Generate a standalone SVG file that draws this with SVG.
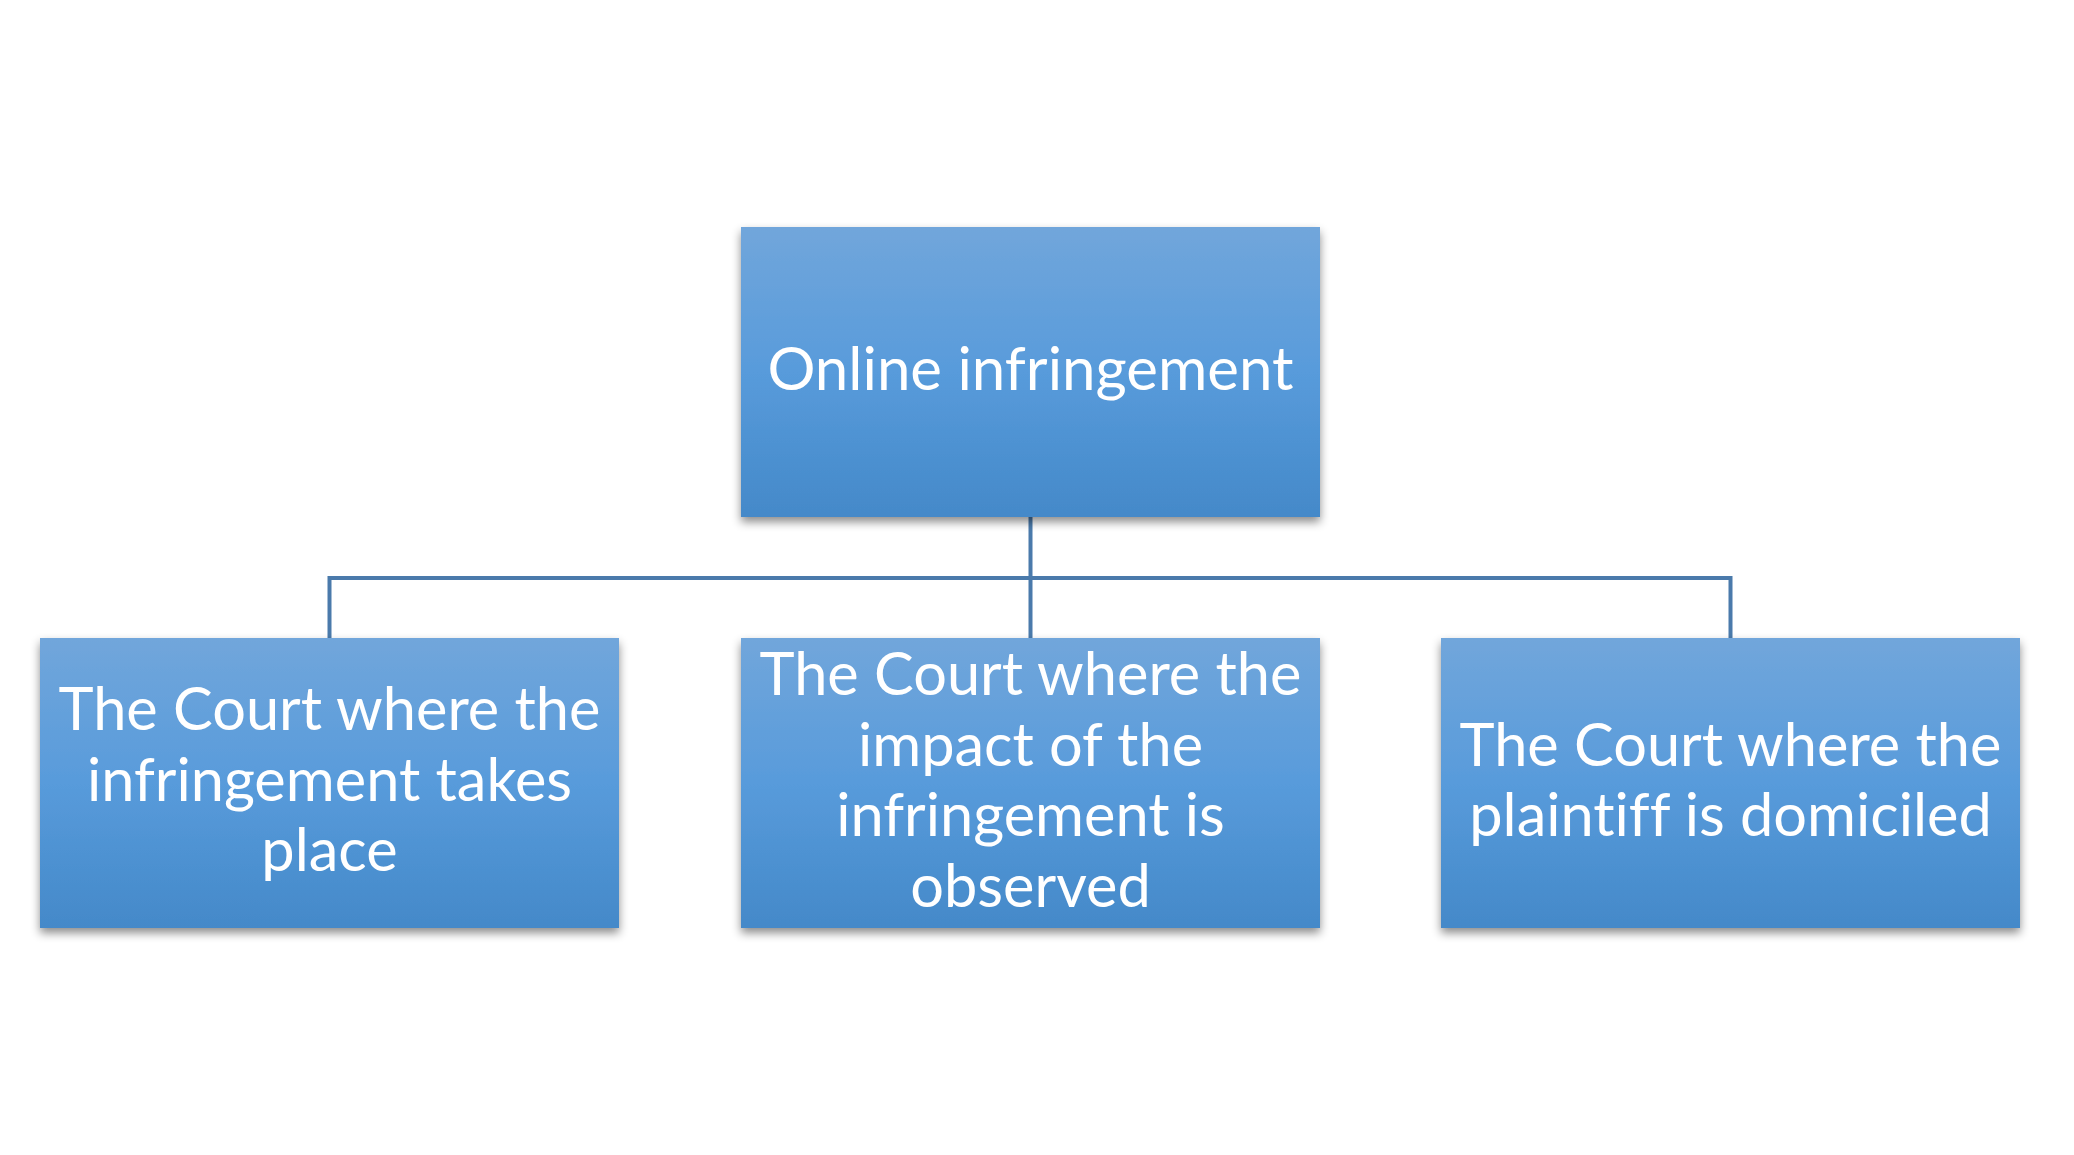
<svg xmlns="http://www.w3.org/2000/svg" width="2074" height="1155" viewBox="0 0 2074 1155">
<style>
.box{fill:url(#g);filter:url(#sh)}
.t{font-family:Lato,"Open Sans",sans-serif;fill:#ffffff;text-anchor:middle;font-variant-ligatures:none}
.top{font-size:60px}
.b{font-size:59.5px}
.c{fill:none;stroke:#4a7aab;stroke-width:4}
</style>
<defs>
<linearGradient id="g" x1="0" y1="0" x2="0" y2="1">
<stop offset="0" stop-color="#71a6db"/>
<stop offset="0.5" stop-color="#589bdb"/>
<stop offset="1" stop-color="#4489c9"/>
</linearGradient>
<filter id="sh" x="-10%" y="-10%" width="120%" height="130%">
<feDropShadow dx="0" dy="5" stdDeviation="5" flood-color="#000" flood-opacity="0.45"/>
</filter>
</defs>
<rect width="2074" height="1155" fill="#ffffff"/>
<g id="connectors">
<path class="c" d="M1030.5 517 V638 M329.5 638 V578 H1730.5 V638"/>
</g>
<g id="root">
<rect class="box" x="741" y="227" width="579" height="290"/>
<text class="t top" x="1030.5" y="390">Online infringement</text>
</g>
<g id="left">
<rect class="box" x="40" y="638" width="579" height="290"/>
<text class="t b" x="329.5" y="730">The Court where the</text>
<text class="t b" x="329.5" y="801">infringement takes</text>
<text class="t b" x="329.5" y="871">place</text>
</g>
<g id="middle">
<rect class="box" x="741" y="638" width="579" height="290"/>
<text class="t b" x="1030.5" y="695">The Court where the</text>
<text class="t b" x="1030.5" y="766">impact of the</text>
<text class="t b" x="1030.5" y="836">infringement is</text>
<text class="t b" x="1030.5" y="907">observed</text>
</g>
<g id="right">
<rect class="box" x="1441" y="638" width="579" height="290"/>
<text class="t b" x="1730.5" y="766">The Court where the</text>
<text class="t b" x="1730.5" y="836">plaintiff is domiciled</text>
</g>
</svg>
